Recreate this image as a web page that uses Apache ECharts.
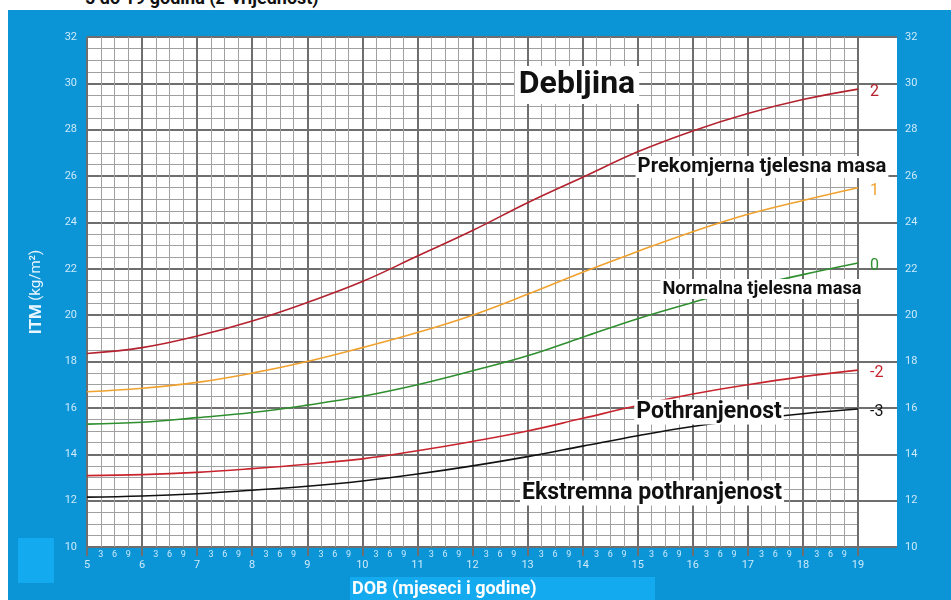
<!DOCTYPE html>
<html>
<head>
<meta charset="utf-8">
<script src="https://cdn.jsdelivr.net/npm/echarts@6/dist/echarts.min.js"></script>
<style>
html,body{margin:0;padding:0;background:#fff;width:951px;height:600px;overflow:hidden;font-family:Roboto,"Noto Sans",sans-serif;}
#bg{position:absolute;left:8px;top:10px;width:943px;height:590px;background:#0b94d6;}
#sq{position:absolute;left:18px;top:538px;width:36px;height:45px;background:#14aaf0;}
#band{position:absolute;left:350px;top:577px;width:305px;height:23px;background:#14aaf0;}
#toptxt{position:absolute;left:85px;top:-13px;font:bold 18px Roboto,sans-serif;color:#111;white-space:nowrap;}
#chart{position:absolute;left:0;top:0;width:951px;height:600px;}
</style>
</head>
<body>
<div id="toptxt">5 do 19 godina (z-vrijednost)</div>
<div id="bg"></div>
<div id="sq"></div>
<div id="band"></div>
<div id="chart"></div>
<script>
// Data (BMI-for-age z-score curves)
const ages    = [5, 6, 7, 8, 9, 10, 11, 12, 13, 14, 15, 16, 17, 18, 19];
const sdPlus2 = [18.35, 18.6, 19.1, 19.75, 20.55, 21.45, 22.55, 23.65, 24.85, 25.95, 27.05, 27.95, 28.7, 29.3, 29.75];
const sdPlus1 = [16.7, 16.85, 17.1, 17.5, 18.0, 18.6, 19.25, 20.0, 20.9, 21.85, 22.75, 23.6, 24.35, 24.95, 25.5];
const sd0     = [15.3, 15.38, 15.58, 15.8, 16.12, 16.5, 17.0, 17.6, 18.25, 19.05, 19.85, 20.55, 21.2, 21.75, 22.25];
const sdMin2  = [13.08, 13.12, 13.22, 13.38, 13.57, 13.8, 14.15, 14.55, 15.0, 15.55, 16.1, 16.6, 17.0, 17.35, 17.63];
const sdMin3  = [12.15, 12.2, 12.3, 12.45, 12.62, 12.85, 13.15, 13.5, 13.9, 14.35, 14.8, 15.2, 15.5, 15.75, 15.95];
const seriesNames = ['2', '1', '0', '-2', '-3'];
const seriesColors = ['#b3222e', '#f0a12e', '#2f8f2f', '#c8242e', '#111111'];
const yTicks = [10, 32];

const chart = echarts.init(document.getElementById('chart'), null, {renderer: 'canvas'});
const labelColor = '#cdeafb';
const minorLine = '#a0a0a0';
const majorLine = '#6e6e6e';

function mk(arr) { return ages.map((a, i) => [a, arr[i]]); }
const allData = [sdPlus2, sdPlus1, sd0, sdMin2, sdMin3];

const series = allData.map((d, i) => ({
  name: seriesNames[i],
  type: 'line',
  xAxisIndex: 0,
  yAxisIndex: 1,
  data: mk(d),
  smooth: 0.4,
  showSymbol: false,
  symbol: 'none',
  lineStyle: {color: seriesColors[i], width: 1.6},
  itemStyle: {color: seriesColors[i]},
  endLabel: {
    show: true,
    formatter: p => p.seriesName,
    color: seriesColors[i],
    fontFamily: 'Roboto',
    fontSize: 16,
    distance: 12,
    offset: [0, 3]
  },
  z: 3
}));

const option = {
  animation: false,
  backgroundColor: 'transparent',
  grid: [
    {left: 87, top: 37, width: 771, height: 510, show: true, backgroundColor: '#ffffff', borderWidth: 0},
    {left: 858, top: 37, width: 39, height: 510, show: true, backgroundColor: '#ffffff', borderWidth: 0}
  ],
  xAxis: [
    {
      gridIndex: 0, type: 'value', position: 'bottom', min: ages[0], max: ages[ages.length - 1], interval: 0.25,
      axisLine: {show: false}, axisTick: {show: false},
      splitLine: {show: true, lineStyle: {color: minorLine, width: 1}},
      axisLabel: {
        color: labelColor, fontSize: 9, fontFamily: 'Roboto', margin: 3,
        formatter: v => { const q = Math.round((v - 5) * 4) % 4; return q === 0 ? '' : String(q * 3); }
      }
    },
    {
      gridIndex: 0, type: 'value', position: 'bottom', min: ages[0], max: ages[ages.length - 1], interval: 1,
      axisLine: {show: false},
      axisTick: {show: true, length: 9, lineStyle: {color: majorLine, width: 2}},
      splitLine: {show: true, lineStyle: {color: majorLine, width: 2}},
      axisLabel: {color: labelColor, fontSize: 11, fontFamily: 'Roboto', margin: 13}
    },
    {gridIndex: 1, type: 'value', min: 0, max: 1, show: false}
  ],
  yAxis: [
    {
      gridIndex: 0, type: 'value', position: 'left', min: yTicks[0], max: yTicks[1], interval: 0.5,
      axisLine: {show: false}, axisTick: {show: false}, axisLabel: {show: false},
      splitLine: {show: true, lineStyle: {color: minorLine, width: 1}}
    },
    {
      gridIndex: 0, type: 'value', position: 'left', min: yTicks[0], max: yTicks[1], interval: 2,
      axisLine: {show: false}, axisTick: {show: false},
      axisLabel: {color: labelColor, fontSize: 11, fontFamily: 'Roboto', margin: 10},
      splitLine: {show: true, lineStyle: {color: majorLine, width: 2}},
      name: '{b|ITM} {n|(kg/m²)}',
      nameLocation: 'middle',
      nameGap: 42,
      nameRotate: 90,
      nameTextStyle: {
        rich: {
          b: {fontWeight: 'bold', fontSize: 17, color: '#eaf6ff', fontFamily: 'Roboto'},
          n: {fontSize: 15, color: '#eaf6ff', fontFamily: 'Roboto'}
        }
      }
    },
    {
      gridIndex: 1, type: 'value', min: yTicks[0], max: yTicks[1], interval: 2, position: 'right',
      axisLine: {show: false}, axisTick: {show: false},
      axisLabel: {color: labelColor, fontSize: 11, fontFamily: 'Roboto', margin: 8},
      splitLine: {show: true, lineStyle: {color: majorLine, width: 2}}
    }
  ],
  graphic: [
    {type: 'text', z: 10, style: {text: 'Debljina', x: 577, y: 85, textAlign: 'center', textVerticalAlign: 'middle',
      font: 'bold 32px Roboto', fill: '#111', backgroundColor: '#fff', padding: [3, 4]}},
    {type: 'text', z: 10, style: {text: 'Prekomjerna tjelesna masa', x: 762, y: 167, textAlign: 'center', textVerticalAlign: 'middle',
      font: 'bold 20.3px Roboto', fill: '#111', backgroundColor: '#fff', padding: [1, 2]}},
    {type: 'text', z: 10, style: {text: 'Normalna tjelesna masa', x: 762, y: 289, textAlign: 'center', textVerticalAlign: 'middle',
      font: 'bold 18.3px Roboto', fill: '#111', backgroundColor: '#fff', padding: [1, 2]}},
    {type: 'text', z: 10, style: {text: 'Pothranjenost', x: 709, y: 412, textAlign: 'center', textVerticalAlign: 'middle',
      font: 'bold 23px Roboto', fill: '#111', backgroundColor: '#fff', padding: [1, 2]}},
    {type: 'text', z: 10, style: {text: 'Ekstremna pothranjenost', x: 652, y: 493, textAlign: 'center', textVerticalAlign: 'middle',
      font: 'bold 23px Roboto', fill: '#111', backgroundColor: '#fff', padding: [1, 2]}},
    {type: 'text', z: 10, style: {text: 'DOB (mjeseci i godine)', x: 352, y: 589, textAlign: 'left', textVerticalAlign: 'middle',
      font: 'bold 18px Roboto', fill: '#ffffff'}}
  ],
  series: series
};
chart.setOption(option);
</script>
</body>
</html>
